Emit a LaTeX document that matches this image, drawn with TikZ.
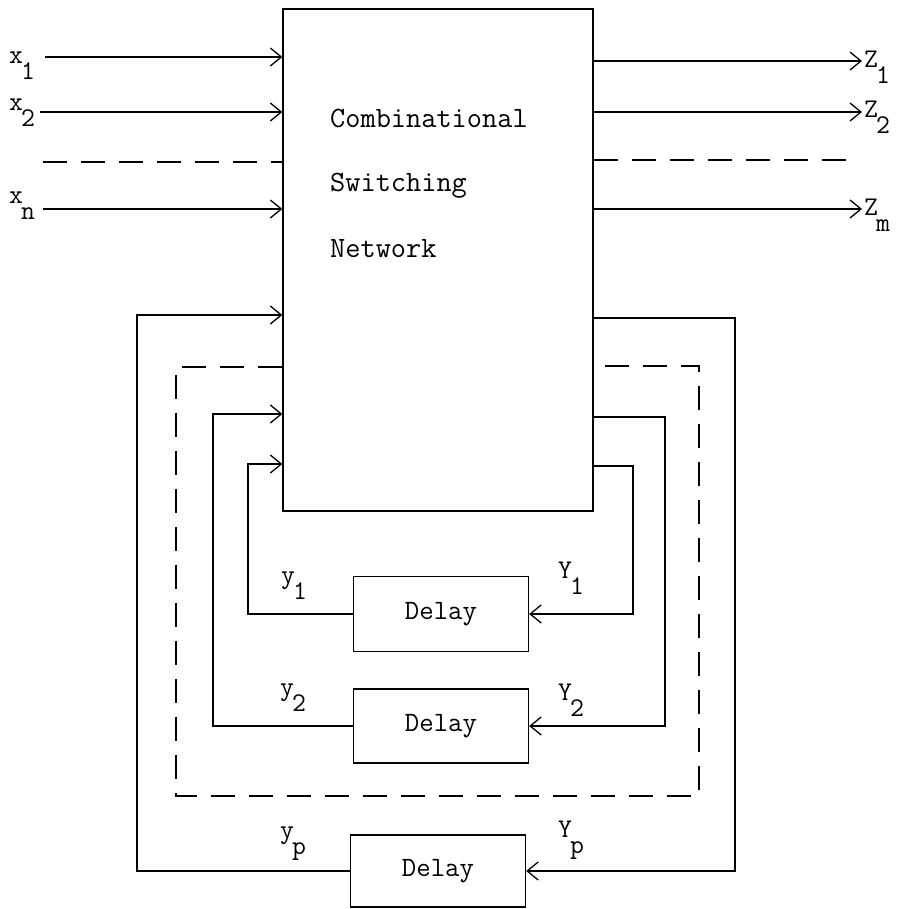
\documentclass[tikz,border=0pt]{standalone}
\usetikzlibrary{arrows.meta,calc}
\tikzset{
  ln/.style={line width=1.3pt},
  arr/.style={ln, -{Straight Barb[length=11pt,width=18pt,line width=1.3pt]}},
  dsh/.style={ln, dash pattern=on 24pt off 14pt},
  blk/.style={draw, line width=1.3pt, inner sep=0pt},
  dly/.style={blk, minimum width=175pt, font=\fontsize{28}{30}\selectfont\ttfamily},
  lbl/.style={font=\fontsize{27}{30}\selectfont\ttfamily, inner sep=0pt, anchor=base west},
  txt/.style={font=\fontsize{29.5}{32}\selectfont\ttfamily, inner sep=0pt, anchor=base west},
}
\newcommand{\lsub}[2]{#1\kern-2pt\raisebox{-16pt}{#2}}
\begin{document}
\begin{tikzpicture}[x=1pt,y=-1pt]
\useasboundingbox (0,0) rectangle (899,909);
% main network
\node[blk, minimum width=310pt, minimum height=502pt] (cn) at (438,260) {};
\node[txt] (t1) at (330,128) {Combinational};
\node[txt] (t2) at (330,192) {Switching};
\node[txt] (t3) at (330,257) {Network};
% delay boxes
\node[dly, minimum height=75pt] (d1) at (441,614) {Delay};
\node[dly, minimum height=74pt] (d2) at (441,726) {Delay};
\node[dly, minimum height=72pt] (dp) at (438,871) {Delay};
% inputs
\node[lbl] (lx1) at (9,64) {\lsub{x}{1}};
\node[lbl] (lx2) at (9,111) {\lsub{x}{2}};
\node[lbl] (lxn) at (9,204) {\lsub{x}{n}};
\coordinate (x1s) at (45,57);
\coordinate (x2s) at (40,112);
\coordinate (xds) at (43,162);
\coordinate (xns) at (43,209);
\draw[arr] (x1s) -- (x1s -| cn.west);
\draw[arr] (x2s) -- (x2s -| cn.west);
\draw[dsh] (xds) -- (xds -| cn.west);
\draw[arr] (xns) -- (xns -| cn.west);
% outputs
\coordinate (z1e) at (862,61);
\coordinate (z2e) at (862,112);
\coordinate (zde) at (858,160);
\coordinate (zme) at (862,209);
\draw[arr] (z1e -| cn.east) -- (z1e);
\draw[arr] (z2e -| cn.east) -- (z2e);
\draw[dsh] (zde -| cn.east) -- (zde);
\draw[arr] (zme -| cn.east) -- (zme);
\node[lbl] (lz1) at (864,68) {\lsub{Z}{1}};
\node[lbl] (lz2) at (864,118) {\lsub{Z}{2}};
\node[lbl] (lzm) at (864,215) {\lsub{Z}{m}};
% feedback loop 1
\coordinate (l1) at (248,464);
\coordinate (r1) at (633,466);
\draw[arr] (d1.west) -| (l1) -- (l1 -| cn.west);
\draw[arr] (r1 -| cn.east) -- (r1) |- (d1.east);
% feedback loop 2
\coordinate (l2) at (213,414);
\coordinate (r2) at (665,417);
\draw[arr] (d2.west) -| (l2) -- (l2 -| cn.west);
\draw[arr] (r2 -| cn.east) -- (r2) |- (d2.east);
% feedback loop p
\coordinate (lp) at (137,315);
\coordinate (rp) at (735,318);
\draw[arr] (dp.west) -| (lp) -- (lp -| cn.west);
\draw[arr] (rp -| cn.east) -- (rp) |- (dp.east);
% dashed loop (omitted delays)
\coordinate (dl) at (176,367);
\coordinate (dr) at (699,366);
\coordinate (db) at (176,796);
\draw[dsh] (dl -| cn.west) -- (dl) -- (db) -- (db -| dr) -- (dr) -- (dr -| cn.east);
% loop labels
\node[lbl] (ly1) at (281,583) {\lsub{y}{1}};
\node[lbl] (lY1) at (558,578) {\lsub{Y}{1}};
\node[lbl] (ly2) at (280,695) {\lsub{y}{2}};
\node[lbl] (lY2) at (558,700) {\lsub{Y}{2}};
\node[lbl] (lyp) at (280,838) {\lsub{y}{p}};
\node[lbl] (lYp) at (558,837) {\lsub{Y}{p}};
\end{tikzpicture}
\end{document}
